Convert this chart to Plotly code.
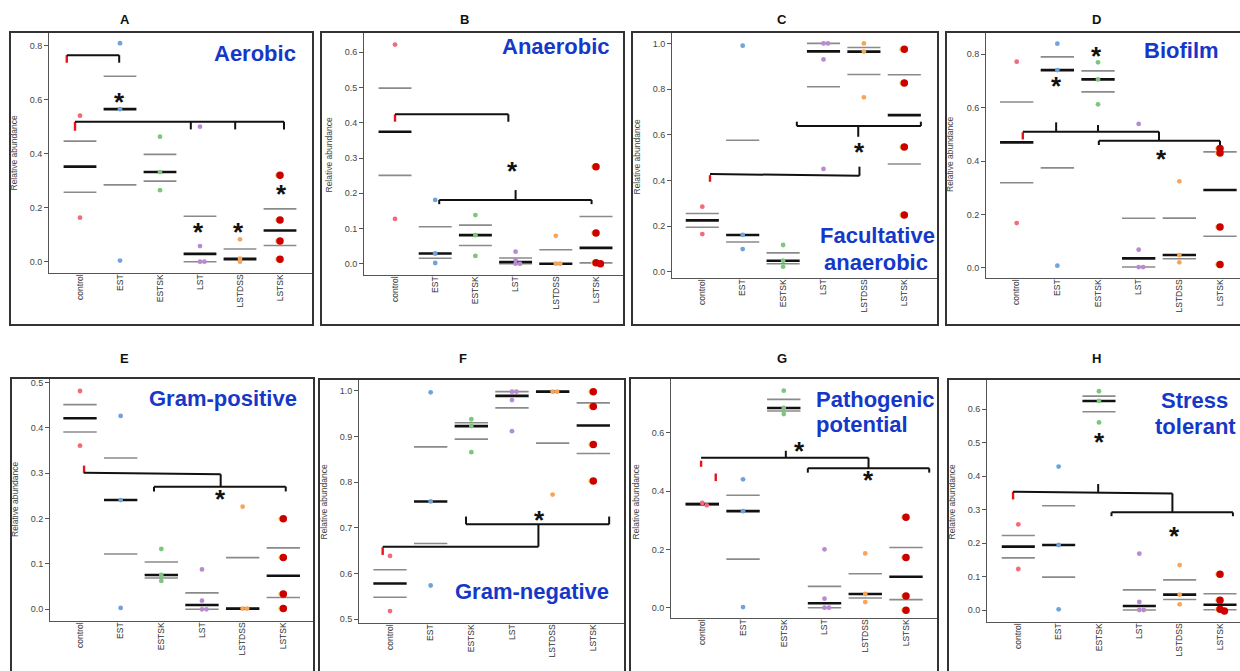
import numpy as np
import plotly.graph_objects as go

W, H = 1240, 671
FONT = "Liberation Sans, Arial, sans-serif"

GROUPS = ["control", "EST", "ESTSK", "LST", "LSTDSS", "LSTSK"]
COLORS = ["#F26B77", "#6FA3DA", "#7CC77C", "#B98ACF", "#F7A55A", "#CC0000"]

# ---- data (relative abundance per sample, per group) ----
AEROBIC = [[0.541, 0.163], [0.809, 0.565, 0.004], [0.463, 0.332, 0.265],
           [0.5, 0.058, 0.0, 0.0], [0.083, 0.011, 0.0], [0.32, 0.154, 0.077, 0.009]]
ANAEROBIC = [[0.622, 0.127], [0.181, 0.029, 0.002], [0.138, 0.081, 0.022],
             [0.034, 0.01, 0.0, 0.0], [0.079, 0.0, 0.0], [0.275, 0.087, 0.003, 0.0]]
FACULTATIVE = [[0.285, 0.165], [0.99, 0.161, 0.099], [0.117, 0.048, 0.022],
               [1.0, 1.0, 0.93, 0.45], [1.0, 0.964, 0.764], [0.974, 0.826, 0.546, 0.248]]
BIOFILM = [[0.7725, 0.1675], [0.84, 0.741, 0.0075], [0.77, 0.706, 0.6125],
           [0.539, 0.0675, 0.0025, 0.0025], [0.324, 0.0475, 0.02], [0.447, 0.43, 0.153, 0.012]]
GRAM_POS = [[0.4816, 0.361], [0.4265, 0.241, 0.003], [0.133, 0.0757, 0.0625],
            [0.088, 0.019, 0.0, 0.0], [0.2265, 0.0015, 0.0015], [0.2, 0.114, 0.034, 0.002]]
GRAM_NEG = [[0.6387, 0.518], [0.997, 0.758, 0.574], [0.938, 0.923, 0.866],
            [0.9985, 0.9985, 0.98, 0.912], [0.9985, 0.9985, 0.773], [0.9985, 0.9657, 0.883, 0.803]]
PATHOGENIC = [[0.359, 0.351], [0.44, 0.331, 0.002], [0.744, 0.6846, 0.664],
              [0.2, 0.031, 0.0, 0.0], [0.186, 0.047, 0.0194], [0.31, 0.172, 0.04, -0.009]]
STRESS = [[0.2557, 0.1224], [0.428, 0.194, 0.002], [0.653, 0.624, 0.560],
          [0.168, 0.024, 0.0, 0.0], [0.134, 0.046, 0.017], [0.1065, 0.029, 0.002, -0.003]]

LETTERS = ["A", "B", "C", "D", "E", "F", "G", "H"]
DATASETS = [AEROBIC, ANAEROBIC, FACULTATIVE, BIOFILM, GRAM_POS, GRAM_NEG, PATHOGENIC, STRESS]
LABELS = [["Aerobic"], ["Anaerobic"], ["Facultative", "anaerobic"], ["Biofilm"],
          ["Gram-positive"], ["Gram-negative"], ["Pathogenic", "potential"], ["Stress", "tolerant"]]
YTICKS = [np.arange(0, 0.81, 0.2), np.arange(0, 0.61, 0.1), np.arange(0, 1.01, 0.2),
          np.arange(0, 0.81, 0.2), np.arange(0, 0.51, 0.1), np.arange(0.5, 1.01, 0.1),
          np.arange(0, 0.61, 0.2), np.arange(0, 0.61, 0.1)]

# ---- layout geometry (pixels) ----
# inner plot box L, R, T, B ; x of first category, category spacing ; ref value, its pixel, px per unit
GEOM = [
    dict(L=49, R=312, T=32, B=273, c0=80, sp=40.0, v0=0.0, y0=261.7, ppu=270.0),
    dict(L=364, R=624, T=32, B=275, c0=395, sp=40.2, v0=0.0, y0=263.7, ppu=352.3),
    dict(L=672, R=937, T=32, B=278, c0=702.3, sp=40.4, v0=0.0, y0=271.7, ppu=228.3),
    dict(L=986, R=1240, T=32, B=278, c0=1016.7, sp=40.66, v0=0.0, y0=267.7, ppu=266.7),
    dict(L=50, R=313, T=378, B=621, c0=80, sp=40.66, v0=0.0, y0=609.3, ppu=453.3),
    dict(L=359, R=624, T=379, B=623, c0=390, sp=40.66, v0=0.5, y0=619.3, ppu=456.7),
    dict(L=671, R=937, T=378, B=618, c0=702.3, sp=40.74, v0=0.0, y0=607.7, ppu=291.7),
    dict(L=987, R=1240, T=379, B=622, c0=1018.3, sp=40.34, v0=0.0, y0=610, ppu=335.0),
]
FRAMES = [(10, 313, 32, 325), (321, 624, 32, 325), (632, 938, 32, 325), (946, 1241, 32, 325),
          (11, 314, 378, 680), (319, 625, 379, 680), (630, 938, 378, 680), (948, 1241, 379, 680)]
LETTER_POS = [(125, 19), (464, 19), (781.5, 19), (1096, 19),
              (125, 358.5), (463, 358.5), (782, 358.5), (1096, 358.5)]
YLAB_POS = [(13.5, 153), (328.5, 155), (636.5, 157), (950, 155),
            (15, 500), (323.5, 502), (635.5, 502), (951.5, 502)]
# big label lines: (x px, y px, anchor)
LABEL_POS = [[(255, 53)], [(556, 46)], [(877, 235), (876, 262)], [(1181, 50.5)],
             [(223, 398)], [(532, 591.5)], [(814, 399, "left"), (814, 424.5, "left")],
             [(1194, 400.5), (1195, 426.5)]]

# significance brackets in data coordinates: (x0, y0, x1, y1, colour)
K, R_ = "#111111", "#E8141B"
BRACKETS = [
    [(-0.33, 0.765, -0.33, 0.737, R_), (-0.33, 0.765, 0.98, 0.765, K), (0.98, 0.765, 0.98, 0.737, K),
     (-0.125, 0.518, -0.125, 0.485, R_), (-0.125, 0.518, 5.1, 0.518, K),
     (2.77, 0.518, 2.77, 0.49, K), (3.88, 0.518, 3.88, 0.49, K), (5.1, 0.518, 5.1, 0.49, K)],
    [(0.0, 0.424, 0.0, 0.403, R_), (0.0, 0.424, 2.82, 0.424, K), (2.82, 0.424, 2.82, 0.403, K),
     (1.1, 0.181, 4.89, 0.181, K), (1.1, 0.181, 1.1, 0.169, K), (4.89, 0.181, 4.89, 0.169, K),
     (3.0, 0.181, 3.0, 0.209, K)],
    [(0.19, 0.423, 0.19, 0.394, R_), (0.19, 0.428, 3.89, 0.42, K), (3.89, 0.42, 3.89, 0.46, K),
     (2.34, 0.638, 5.41, 0.638, K), (2.34, 0.638, 2.34, 0.657, K), (5.41, 0.638, 5.41, 0.657, K),
     (3.86, 0.638, 3.86, 0.591, K)],
    [(0.15, 0.5075, 0.15, 0.481, R_), (0.15, 0.51, 3.5, 0.51, K), (0.97, 0.51, 0.97, 0.545, K),
     (2.0, 0.51, 2.0, 0.535, K), (3.5, 0.51, 3.5, 0.476, K),
     (2.02, 0.476, 5.0, 0.476, K), (2.02, 0.476, 2.02, 0.46, K), (5.0, 0.476, 5.0, 0.46, K)],
    [(0.1, 0.317, 0.1, 0.300, R_), (0.1, 0.3015, 3.46, 0.298, K), (3.46, 0.298, 3.46, 0.2706, K),
     (1.82, 0.2706, 5.06, 0.2706, K), (1.82, 0.2706, 1.82, 0.26, K), (5.06, 0.2706, 5.06, 0.26, K)],
    [(-0.18, 0.6577, -0.18, 0.641, R_), (-0.18, 0.659, 3.65, 0.659, K), (3.65, 0.659, 3.65, 0.7066, K),
     (1.87, 0.708, 5.39, 0.708, K), (1.87, 0.708, 1.87, 0.725, K), (5.39, 0.708, 5.39, 0.725, K)],
    [(-0.03, 0.504, -0.03, 0.483, R_), (0.33, 0.46, 0.33, 0.434, R_),
     (-0.03, 0.514, 4.08, 0.514, K), (2.05, 0.514, 2.05, 0.538, K), (4.08, 0.514, 4.08, 0.478, K),
     (2.59, 0.478, 5.57, 0.478, K), (2.59, 0.478, 2.59, 0.463, K), (5.57, 0.478, 5.57, 0.463, K)],
    [(-0.13, 0.353, -0.13, 0.33, R_), (-0.13, 0.353, 3.82, 0.348, K), (3.82, 0.348, 3.82, 0.2915, K),
     (1.98, 0.352, 1.98, 0.376, K),
     (2.31, 0.2915, 5.32, 0.2915, K), (2.31, 0.2915, 2.31, 0.28, K), (5.32, 0.2915, 5.32, 0.28, K)],
]
STARS = [[(0.98, 0.602), (2.96, 0.12), (3.96, 0.12), (5.03, 0.26)],
         [(2.92, 0.272)],
         [(3.89, 0.537)],
         [(1.97, 0.806), (0.97, 0.694), (3.56, 0.42)],
         [(3.46, 0.249)],
         [(3.67, 0.723)],
         [(2.38, 0.549), (4.08, 0.447)],
         [(2.02, 0.509), (3.87, 0.231)]]


def px(x):
    return x / W


def py(y):
    return 1 - y / H


def dodge(vals, ppu, tol_px=2.5, step=0.11):
    vals = np.asarray(vals, float)
    order = np.argsort(-vals)
    off = np.zeros(len(vals))
    clusters = []
    for i in order:
        if clusters and abs(vals[i] - vals[clusters[-1][-1]]) * ppu < tol_px:
            clusters[-1].append(i)
        else:
            clusters.append([i])
    for c in clusters:
        for k, i in enumerate(c):
            off[i] = k * step
    return off


fig = go.Figure()
shapes, annotations = [], []
layout = {}
HW = 0.41

for p in range(8):
    g = GEOM[p]
    data = DATASETS[p]
    sfx = "" if p == 0 else str(p + 1)
    xa, ya = "x" + sfx, "y" + sfx
    xr = [(g["L"] - g["c0"]) / g["sp"], (g["R"] - g["c0"]) / g["sp"]]
    yr = [g["v0"] + (g["y0"] - g["B"]) / g["ppu"], g["v0"] + (g["y0"] - g["T"]) / g["ppu"]]
    layout["xaxis" + sfx] = dict(
        domain=[px(g["L"]), px(g["R"])], range=xr, anchor=ya,
        tickvals=list(range(6)), ticktext=GROUPS, tickangle=-90,
        tickfont=dict(family=FONT, size=8.5, color="#333"), ticklabelstandoff=-3,
        showline=True, mirror=True, linecolor="#555", linewidth=1,
        showgrid=False, zeroline=False, ticks="", fixedrange=True)
    layout["yaxis" + sfx] = dict(
        domain=[py(g["B"]), py(g["T"])], range=yr, anchor=xa,
        tickvals=list(YTICKS[p]), tickformat=".1f",
        tickfont=dict(family=FONT, size=9, color="#444"),
        ticks="outside", ticklen=4, tickcolor="#555", tickwidth=1,
        showline=True, mirror=True, linecolor="#555", linewidth=1,
        showgrid=False, zeroline=False, fixedrange=True)

    # quartile (grey) and median (black) lines
    gx, gy, mx, my = [], [], [], []
    for i, vals in enumerate(data):
        q1, med, q3 = np.percentile(vals, [25, 50, 75])
        for q in (q1, q3):
            gx += [i - HW, i + HW, None]
            gy += [q, q, None]
        mx += [i - HW, i + HW, None]
        my += [med, med, None]
    fig.add_trace(go.Scatter(x=gx, y=gy, mode="lines", xaxis=xa, yaxis=ya,
                             line=dict(color="#8a8a8a", width=1.6), hoverinfo="skip",
                             showlegend=False))
    fig.add_trace(go.Scatter(x=mx, y=my, mode="lines", xaxis=xa, yaxis=ya,
                             line=dict(color="#111111", width=2.6), hoverinfo="skip",
                             showlegend=False))

    # points
    for i, vals in enumerate(data):
        off = dodge(vals, g["ppu"])
        xs = [i + o for o in off]
        if i == 5:
            fig.add_trace(go.Scatter(x=[x - 0.07 for x in xs], y=vals, mode="markers",
                                     xaxis=xa, yaxis=ya, showlegend=False,
                                     marker=dict(color="#F2E04A", size=4.5, line=dict(width=0))))
            size = 7.5
        else:
            size = 4.8
        fig.add_trace(go.Scatter(x=xs, y=vals, mode="markers", xaxis=xa, yaxis=ya,
                                 name=GROUPS[i], showlegend=False,
                                 marker=dict(color=COLORS[i], size=size, line=dict(width=0))))

    # brackets
    for (x0, y0, x1, y1, col) in BRACKETS[p]:
        shapes.append(dict(type="line", xref=xa, yref=ya, x0=x0, y0=y0, x1=x1, y1=y1,
                           line=dict(color=col, width=2.4 if col == R_ else 2)))
    for (sx, sy) in STARS[p]:
        annotations.append(dict(x=sx, y=sy, xref=xa, yref=ya, text="<b>*</b>", showarrow=False,
                                xanchor="center", yanchor="middle",
                                font=dict(family=FONT, size=26, color="#111"), yshift=-3))

    # outer frame
    fl, fr, ft, fb = FRAMES[p]
    shapes.append(dict(type="rect", xref="paper", yref="paper", x0=px(fl), x1=px(fr),
                       y0=py(fb), y1=py(ft), line=dict(color="#333", width=2)))
    # panel letter
    lx, ly = LETTER_POS[p]
    annotations.append(dict(x=px(lx), y=py(ly), xref="paper", yref="paper", text="<b>%s</b>" % LETTERS[p],
                            showarrow=False, xanchor="center", yanchor="middle",
                            font=dict(family=FONT, size=13, color="#111")))
    # y axis title
    tx, ty = YLAB_POS[p]
    annotations.append(dict(x=px(tx), y=py(ty), xref="paper", yref="paper", text="Relative abundance",
                            textangle=-90, showarrow=False, xanchor="center", yanchor="middle",
                            font=dict(family=FONT, size=8.5, color="#444")))
    # big blue label
    for line, pos in zip(LABELS[p], LABEL_POS[p]):
        anchor = pos[2] if len(pos) > 2 else "center"
        annotations.append(dict(x=px(pos[0]), y=py(pos[1]), xref="paper", yref="paper",
                                text="<b>%s</b>" % line, showarrow=False,
                                xanchor=anchor, yanchor="middle",
                                font=dict(family=FONT, size=22, color="#1638C8")))

fig.update_layout(**layout)
fig.update_layout(width=W, height=H, margin=dict(l=0, r=0, t=0, b=0),
                  paper_bgcolor="white", plot_bgcolor="white",
                  shapes=shapes, annotations=annotations, showlegend=False,
                  font=dict(family=FONT))
fig.write_html("out.html", config={"displayModeBar": False},
               post_script="document.body.style.margin='0';document.body.style.overflow='hidden';")
